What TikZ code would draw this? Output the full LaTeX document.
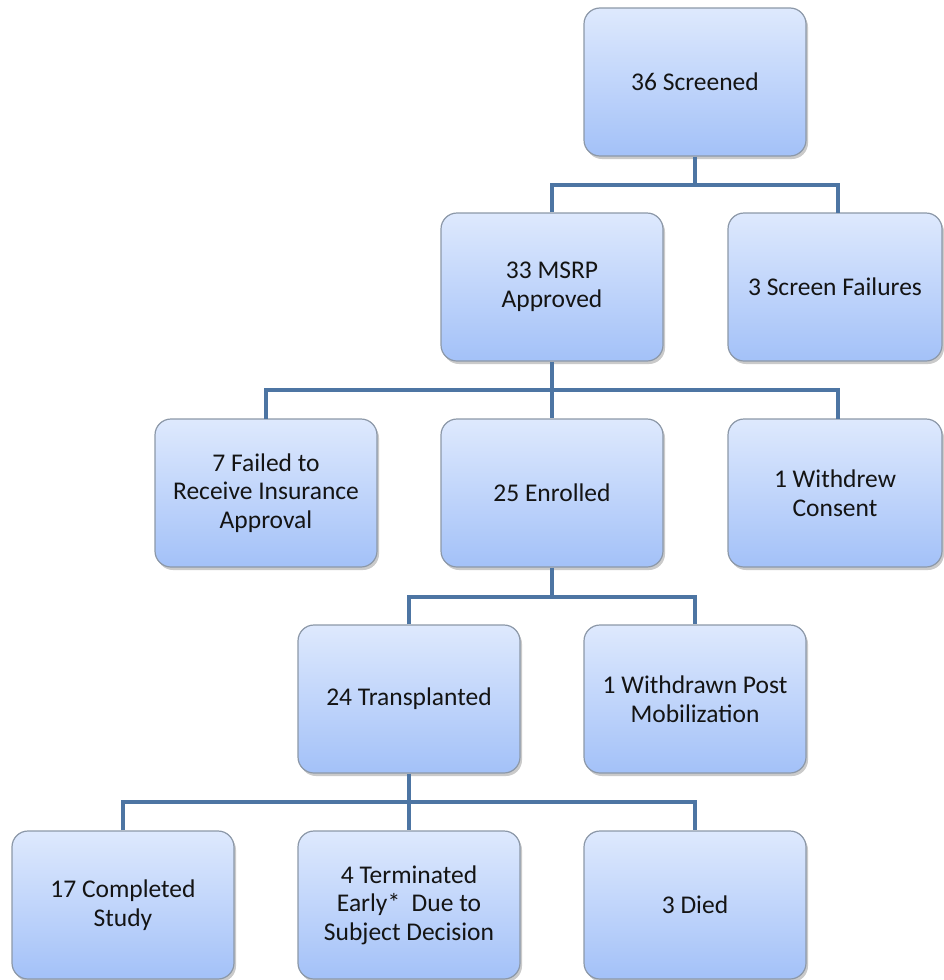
\documentclass[tikz,border=0pt]{standalone}
\usepackage{fontspec}
\setmainfont{Carlito}
\usetikzlibrary{shadows}
\definecolor{boxtop}{HTML}{DEE9FD}
\definecolor{boxbot}{HTML}{A3C1F8}
\definecolor{boxline}{HTML}{8C98A8}
\definecolor{conn}{HTML}{4D75A3}
\definecolor{txt}{HTML}{141414}
\begin{document}
\begin{tikzpicture}[x=1pt,y=-1pt,
  stagebox/.style={draw=boxline, line width=1.2pt, rounded corners=16pt,
    top color=boxtop, bottom color=boxbot, minimum width=222pt, minimum height=148pt,
    align=center, text=txt, font=\fontsize{25.5}{28.5}\selectfont, inner sep=4pt,
    drop shadow={shadow xshift=2pt, shadow yshift=-3pt, opacity=0.35, fill=black!60}},
  link/.style={draw=conn, line width=4pt}]
\useasboundingbox (0,0) rectangle (943,980);
% row 1
\node[stagebox] (scr) at (695,82) {36 Screened};
% row 2
\node[stagebox] (msrp) at (552,287) {33 MSRP\\Approved};
\node[stagebox, minimum width=214pt] (sf) at (835,287) {3 Screen Failures};
% row 3
\node[stagebox] (ins) at (266,493) {7 Failed to\\Receive Insurance\\Approval};
\node[stagebox] (enr) at (552,493) {25 Enrolled};
\node[stagebox, minimum width=214pt] (wc) at (835,493) {1 Withdrew\\Consent};
% row 4
\node[stagebox] (tr) at (409,699) {24 Transplanted};
\node[stagebox] (wpm) at (695,699) {1 Withdrawn Post\\Mobilization};
% row 5
\node[stagebox] (comp) at (123,905) {17 Completed\\Study};
\node[stagebox] (term) at (409,905) {4 Terminated\\Early*\ \ Due to\\Subject Decision};
\node[stagebox] (died) at (695,905) {3 Died};
% connectors
\coordinate (j1) at (695,185);
\draw[link] (scr.south) -- (j1);
\draw[link] (msrp.north) -- (552,185) -- (838,185) -- (838,213);
\coordinate (j2) at (552,390);
\draw[link] (msrp.south) -- (j2);
\draw[link] (266,419) -- (266,390) -- (838,390) -- (838,419);
\draw[link] (j2) -- (enr.north);
\coordinate (j3) at (552,597);
\draw[link] (enr.south) -- (j3);
\draw[link] (tr.north) -- (409,597) -- (695,597) -- (wpm.north);
\coordinate (j4) at (409,802);
\draw[link] (tr.south) -- (j4);
\draw[link] (comp.north) -- (123,802) -- (695,802) -- (died.north);
\draw[link] (j4) -- (term.north);
\end{tikzpicture}
\end{document}
